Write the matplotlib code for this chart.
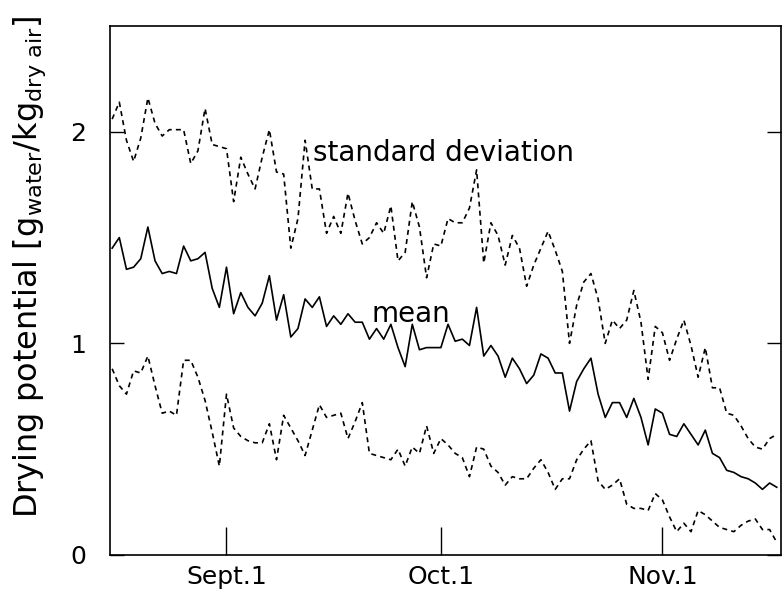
import numpy as np
import matplotlib
matplotlib.use("Agg")
import matplotlib.pyplot as plt

# daily drying potential, day of year starting Aug 16
mean = [1.45, 1.50, 1.35, 1.36, 1.40, 1.55, 1.39, 1.33, 1.34, 1.33,
        1.46, 1.39, 1.40, 1.43, 1.26, 1.17, 1.36, 1.14, 1.24, 1.17,
        1.13, 1.19, 1.32, 1.11, 1.23, 1.03, 1.07, 1.21, 1.17, 1.22,
        1.08, 1.13, 1.09, 1.14, 1.10, 1.10, 1.02, 1.07, 1.02, 1.09,
        0.98, 0.89, 1.09, 0.97, 0.98, 0.98, 0.98, 1.09, 1.01, 1.02,
        0.99, 1.17, 0.94, 0.99, 0.94, 0.84, 0.93, 0.88, 0.81, 0.85,
        0.95, 0.93, 0.86, 0.86, 0.68, 0.82, 0.88, 0.93, 0.76, 0.65,
        0.72, 0.72, 0.65, 0.74, 0.65, 0.52, 0.69, 0.67, 0.57, 0.56,
        0.62, 0.57, 0.52, 0.59, 0.48, 0.46, 0.40, 0.39, 0.37, 0.36,
        0.34, 0.31, 0.34, 0.32]

upper = [2.06, 2.14, 1.96, 1.86, 1.97, 2.16, 2.04, 1.98, 2.01, 2.01,
         2.01, 1.85, 1.91, 2.11, 1.94, 1.93, 1.92, 1.67, 1.88, 1.80,
         1.73, 1.88, 2.01, 1.81, 1.80, 1.45, 1.59, 1.96, 1.73, 1.73,
         1.52, 1.60, 1.52, 1.71, 1.58, 1.47, 1.50, 1.57, 1.52, 1.65,
         1.39, 1.43, 1.67, 1.55, 1.31, 1.47, 1.46, 1.59, 1.57, 1.57,
         1.64, 1.82, 1.38, 1.57, 1.51, 1.37, 1.51, 1.45, 1.27, 1.37,
         1.45, 1.53, 1.44, 1.34, 1.00, 1.18, 1.29, 1.33, 1.21, 1.00,
         1.11, 1.07, 1.11, 1.25, 1.10, 0.83, 1.08, 1.05, 0.92, 1.02,
         1.11, 0.99, 0.84, 0.98, 0.79, 0.79, 0.67, 0.66, 0.61, 0.55,
         0.51, 0.50, 0.55, 0.57]

lower = [0.88, 0.80, 0.76, 0.87, 0.86, 0.94, 0.80, 0.67, 0.68, 0.66,
         0.92, 0.92, 0.84, 0.73, 0.58, 0.42, 0.76, 0.60, 0.56, 0.54,
         0.53, 0.53, 0.62, 0.45, 0.66, 0.60, 0.54, 0.47, 0.59, 0.71,
         0.65, 0.66, 0.67, 0.55, 0.63, 0.72, 0.48, 0.47, 0.46, 0.45,
         0.50, 0.42, 0.51, 0.48, 0.61, 0.48, 0.55, 0.52, 0.48, 0.46,
         0.37, 0.51, 0.50, 0.42, 0.39, 0.33, 0.37, 0.36, 0.36, 0.41,
         0.45, 0.39, 0.31, 0.36, 0.36, 0.45, 0.50, 0.54, 0.35, 0.31,
         0.33, 0.36, 0.24, 0.22, 0.22, 0.21, 0.29, 0.26, 0.18, 0.11,
         0.15, 0.11, 0.21, 0.19, 0.16, 0.13, 0.12, 0.11, 0.14, 0.16,
         0.17, 0.12, 0.12, 0.06]

days = np.arange(228, 228 + len(mean))
month_ticks = [244, 274, 305]
month_labels = ["Sept.1", "Oct.1", "Nov.1"]

plt.rcParams['font.family'] = ['DejaVu Sans']

fig = plt.figure(figsize=(7.83, 5.91), dpi=100)
ax = fig.add_axes([0.1405, 0.061, 0.857, 0.895])

dash = (0, (3, 2.5))
ax.plot(days, upper, color='black', lw=1.2, linestyle=dash)
ax.plot(days, mean, color='black', lw=1.2)
ax.plot(days, lower, color='black', lw=1.2, linestyle=dash)

ax.text(256.1, 1.86, "standard deviation", fontsize=20, va='baseline')
ax.text(264.3, 1.10, "mean", fontsize=20, va='baseline')

ax.set_xlim(227.7, 321.6)
ax.set_ylim(0, 2.5)

ax.set_xticks(month_ticks)
ax.set_xticklabels(month_labels, fontsize=18)
ax.tick_params(axis='x', direction='in', length=20, width=1, pad=7)

ax.set_yticks([0, 1, 2])
ax.set_yticklabels(['0', '1', '2'], fontsize=18)
ax.tick_params(axis='y', direction='in', length=10, width=1, pad=17,
               right=True)

ax.set_ylabel(r"Drying potential [g$_{\mathrm{water}}$/kg$_{\mathrm{dry\ air}}$]",
              fontsize=23)
ax.yaxis.set_label_coords(-0.092, 0.545)

for side in ['left', 'bottom', 'top', 'right']:
    ax.spines[side].set_linewidth(1.2)

fig.savefig("out.png", dpi=100)
